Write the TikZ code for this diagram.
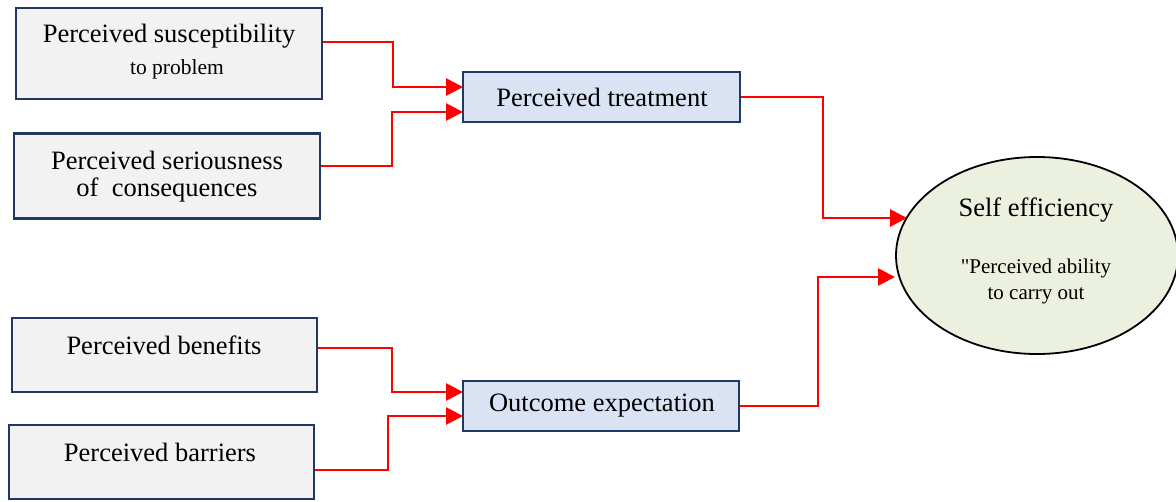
\documentclass[tikz,border=0pt]{standalone}
\usepackage{fontspec}
\setmainfont{Liberation Serif}
\newfontfamily\qfont{Liberation Serif}
\usetikzlibrary{shapes.geometric,arrows.meta}
\definecolor{navy}{HTML}{1F3864}
\definecolor{gfill}{HTML}{F2F2F2}
\definecolor{bfill}{HTML}{DAE3F3}
\definecolor{efill}{HTML}{EBF1DE}
\tikzset{
  gbox/.style={draw=navy, line width=2.8pt, fill=gfill, inner sep=0pt},
  bbox/.style={draw=navy, line width=2.8pt, fill=bfill, inner sep=0pt},
  txt/.style={inner sep=0pt, align=center, font=\fontsize{26.5}{30}\selectfont},
  small/.style={inner sep=0pt, font=\fontsize{21.5}{24}\selectfont},
  etxt/.style={inner sep=0pt, font=\fontsize{21}{24}\selectfont},
  conn/.style={red, line width=2.8pt, -{Triangle[length=17pt,width=17pt]}},
}
\begin{document}
\begin{tikzpicture}[x=1pt,y=-1pt]
\useasboundingbox (0,0) rectangle (1176,501);
% left boxes
\node[gbox, minimum width=306, minimum height=91] (b1) at (169,53.5) {};
\node[gbox, minimum width=306, minimum height=85] (b2) at (167,176) {};
\node[gbox, minimum width=305, minimum height=74] (b3) at (164.5,355) {};
\node[gbox, minimum width=305, minimum height=74] (b4) at (161.5,462) {};
% middle boxes
\node[bbox, minimum width=277, minimum height=50] (pt) at (601.5,97) {};
\node[bbox, minimum width=276, minimum height=50] (oe) at (601,406) {};
% ellipse
\node[ellipse, draw=black, line width=1.8pt, fill=efill, minimum width=282, minimum height=197, inner sep=0pt] (se) at (1037,255.5) {};
% texts
\node[txt] (t1) at (169,36) {Perceived susceptibility};
\node[small] (t1b) at (177,69) {to problem};
\node[txt] (t2) at (167,160) {Perceived seriousness};
\node[txt] (t2b) at (167,190) {of\ \ consequences};
\node[txt] (t3) at (164,345) {Perceived benefits};
\node[txt] (t4) at (160,452) {Perceived barriers};
\node[txt] (tpt) at (602,97) {Perceived treatment};
\node[txt] (toe) at (602,406) {Outcome expectation};
\node[txt] (tse) at (1036,210) {Self efficiency};
\node[etxt] (tse2) at (1036,268) {{\qfont"}Perceived ability};
\node[etxt] (tse3) at (1036,296) {to carry out};
% coordinates for connector heights
\coordinate (p1) at (463,87);
\coordinate (p2) at (463,112);
\coordinate (p3) at (463,392);
\coordinate (p4) at (463,416);
\coordinate (e1) at (907,218);
\coordinate (e2) at (895,277);
% connectors
\draw[conn] (b1.east |- 0,42) -| (393,87) -- (p1);
\draw[conn] (b2.east |- 0,166) -| (392,112) -- (p2);
\draw[conn] (b3.east |- 0,348) -| (392,392) -- (p3);
\draw[conn] (b4.east |- 0,470) -| (388,416) -- (p4);
\draw[conn] (pt.east) -| (823,218) -- (e1);
\draw[conn] (oe.east) -| (818,277) -- (e2);
\end{tikzpicture}
\end{document}
